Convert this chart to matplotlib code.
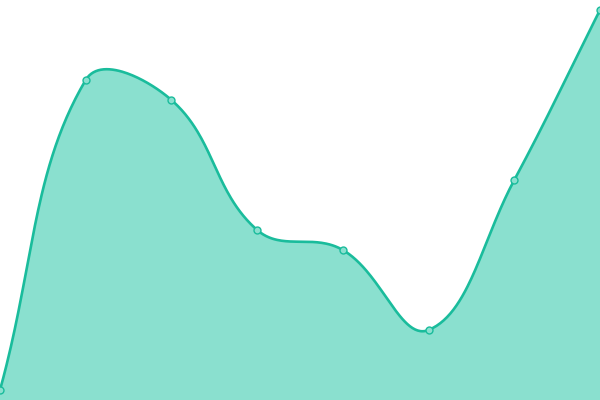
import numpy as np
import matplotlib
matplotlib.use("Agg")
import matplotlib.pyplot as plt

# data (8 evenly spaced points)
categories = ["A", "B", "C", "D", "E", "F", "G", "H"]
values = [10, 320, 300, 170, 150, 70, 220, 390]

line_color = "#1abc9c"
fill_color = "#8ae0cf"

W, H = 600, 400
YMAX = 400


def smooth(xs, ys, tension=0.4, n=60):
    # bezier smoothing, control points scaled by neighbour distances (in pixels)
    xs = np.asarray(xs, float)
    ys = np.asarray(ys, float)
    px = xs * W / (len(xs) - 1)
    py = ys * H / YMAX
    pts = np.column_stack([px, py])
    cp_prev = pts.copy()
    cp_next = pts.copy()
    last = len(pts) - 1
    for i in range(len(pts)):
        prev = pts[max(i - 1, 0)]
        nxt = pts[min(i + 1, last)]
        d01 = np.hypot(*(pts[i] - prev))
        d12 = np.hypot(*(nxt - pts[i]))
        tot = d01 + d12
        s01 = d01 / tot
        s12 = d12 / tot
        cp_prev[i] = pts[i] - tension * s01 * (nxt - prev)
        cp_next[i] = pts[i] + tension * s12 * (nxt - prev)
    out = []
    t = np.linspace(0, 1, n)[:, None]
    for i in range(last):
        a, b, c, d = pts[i], cp_next[i], cp_prev[i + 1], pts[i + 1]
        seg = (1 - t)**3 * a + 3 * (1 - t)**2 * t * b + 3 * (1 - t) * t**2 * c + t**3 * d
        out.append(seg)
    out = np.vstack(out)
    return out[:, 0] * (len(xs) - 1) / W, out[:, 1] * YMAX / H


x = np.arange(len(categories))
sx, sy = smooth(x, values)

fig = plt.figure(figsize=(6, 4), dpi=100)
ax = fig.add_axes([0, 0, 1, 1])
ax.fill_between(sx, sy, 0, color=fill_color, linewidth=0)
ax.plot(sx, sy, color=line_color, linewidth=1.9, solid_capstyle="round")
ax.plot(x, values, "o", markersize=5, markerfacecolor=fill_color,
        markeredgecolor=line_color, markeredgewidth=1, clip_on=False)
ax.set_xlim(0, len(categories) - 1)
ax.set_ylim(0, YMAX)
ax.axis("off")

fig.savefig("out.png", dpi=100)
